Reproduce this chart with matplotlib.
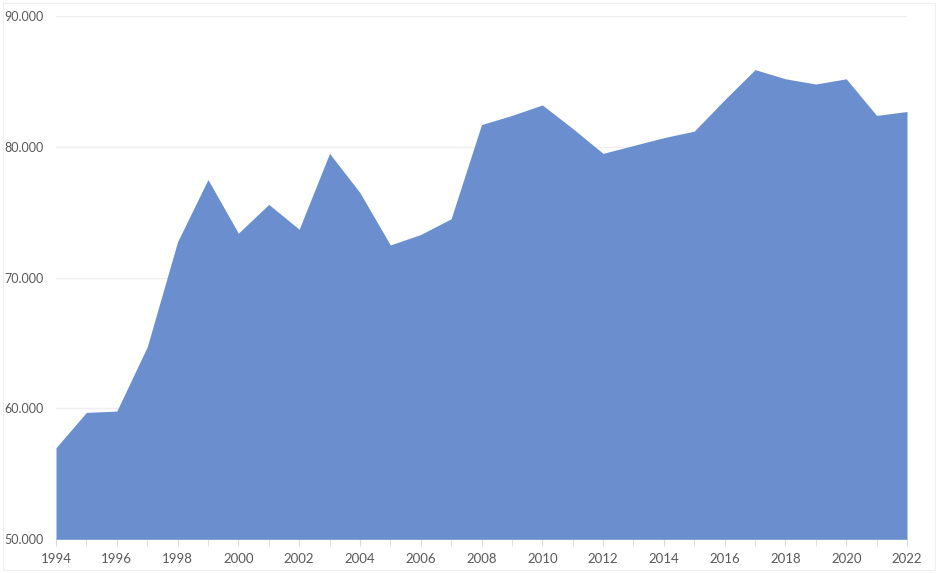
import matplotlib
matplotlib.use("Agg")
import matplotlib.pyplot as plt
from matplotlib.ticker import FuncFormatter, MultipleLocator
from matplotlib.patches import Rectangle

years = list(range(1994, 2023))
values = [57.0, 59.7, 59.8, 64.7, 72.75, 77.5, 73.4, 75.6, 73.7, 79.5,
          76.5, 72.5, 73.3, 74.5, 81.7, 82.4, 83.2, 81.4, 79.5, 80.1,
          80.7, 81.2, 83.6, 85.9, 85.2, 84.8, 85.2, 82.4, 82.7]
values = [v * 1000 for v in values]
y_ticks = [50000, 60000, 70000, 80000, 90000]
x_ticks = list(range(1994, 2023, 2))

plt.rcParams['font.family'] = ['Lato', 'DejaVu Sans']

W, H = 940, 573
fig = plt.figure(figsize=(W / 100, H / 100), dpi=100)
ax = fig.add_axes([56 / W, 1 - 539.3 / H, (907 - 56) / W, (539.3 - 16) / H])

ax.fill_between(years, values, 50000, color='#6b8fce', linewidth=0, zorder=2)
ax.set_xlim(1994, 2022)
ax.set_ylim(50000, 90000)
ax.set_yticks(y_ticks)
ax.yaxis.set_major_formatter(FuncFormatter(lambda v, p: f"{int(v):,}".replace(",", ".")))
ax.set_xticks(x_ticks)
ax.xaxis.set_minor_locator(MultipleLocator(1))
ax.grid(axis='y', color='#efefef', linewidth=1, zorder=0)
for s in ax.spines.values():
    s.set_visible(False)
ax.tick_params(axis='y', length=0, pad=9, labelsize=9, labelcolor='#595959')
ax.tick_params(axis='x', which='both', length=5, color='#d9d9d9', pad=5,
               labelsize=9.5, labelcolor='#595959')
ax.tick_params(axis='x', which='minor', length=5)

fig.patches.append(Rectangle((3 / W, 3 / H), 1 - 8 / W, 1 - 6 / H, transform=fig.transFigure,
                             fill=False, edgecolor='#eeeeee', linewidth=0.8))

fig.savefig("out.png", dpi=100)
